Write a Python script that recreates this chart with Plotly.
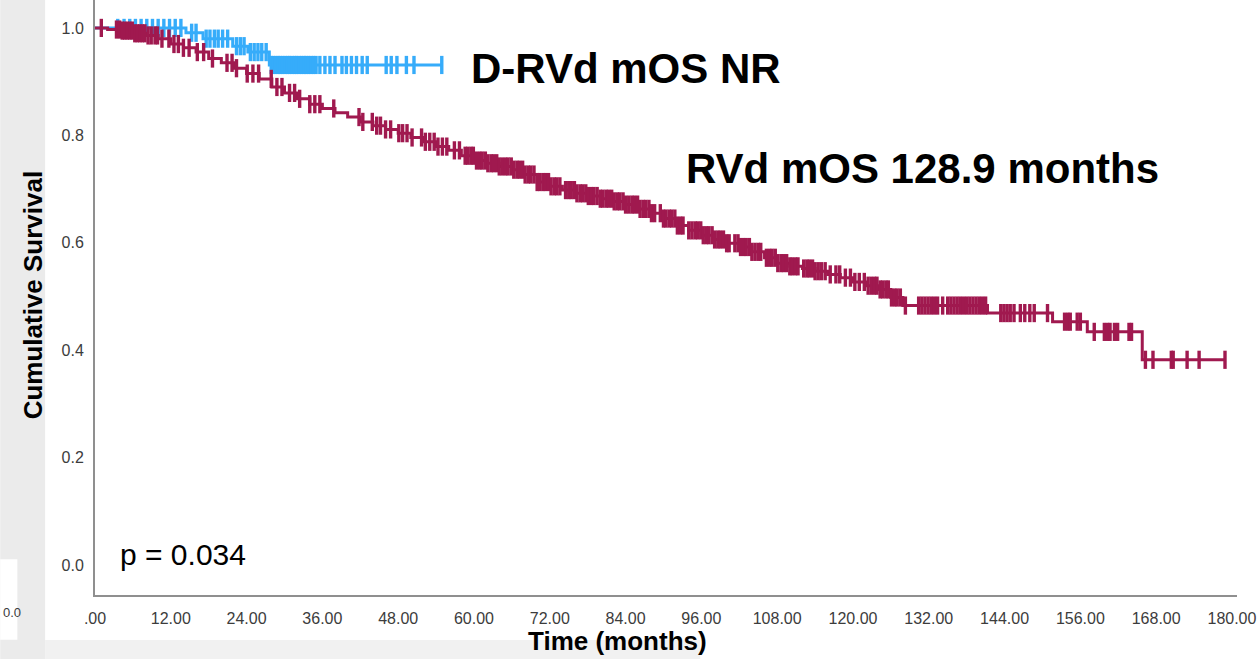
import numpy as np
import plotly.graph_objects as go

# ---- Kaplan-Meier data (months, cumulative survival) ----
# RVd arm: event times and survival after each step
RVD_EVENT_T = [2, 4, 6, 8, 10, 12, 14, 16, 18, 20, 22, 24, 26, 28, 30, 32, 34, 36, 38, 40,
               42, 44, 46, 48, 50, 52, 54, 56, 58, 60, 62, 64, 66, 68, 70, 72, 74, 76, 78, 80,
               82, 84, 86, 88, 90, 92, 94, 96, 98, 100, 102, 104, 106, 108, 110, 112, 114, 116,
               118, 120, 122, 124, 126, 127.9, 141.3, 151.6, 157.1, 165.8]
RVD_SURV = [0.997, 0.995, 0.990, 0.986, 0.980, 0.970, 0.963, 0.955, 0.943, 0.935,
            0.925, 0.915, 0.905, 0.890, 0.879, 0.868, 0.858, 0.850, 0.842, 0.834,
            0.825, 0.818, 0.811, 0.804, 0.796, 0.788, 0.779, 0.772, 0.762, 0.753,
            0.748, 0.742, 0.736, 0.727, 0.713, 0.705, 0.698, 0.692, 0.687, 0.682,
            0.677, 0.671, 0.663, 0.655, 0.645, 0.632, 0.623, 0.614, 0.606, 0.599,
            0.592, 0.583, 0.572, 0.562, 0.556, 0.552, 0.547, 0.541, 0.535, 0.527,
            0.520, 0.513, 0.498, 0.483, 0.469, 0.453, 0.434, 0.382]
RVD_CENSOR_T = [
    1.0, 3.4, 3.9, 4.3, 4.7, 5.1, 5.5, 5.9, 6.3, 6.7, 7.1, 7.5, 7.9, 8.4, 8.9, 9.5, 9.9, 10.6,
    11.7, 12.5, 13.2, 14.0, 14.9, 16.2, 17.2, 18.6, 20.9, 21.7, 22.4, 24.1, 25.0, 25.9,
    27.9, 28.8, 29.6, 30.8, 31.6, 32.4, 34.0, 34.8, 35.6, 37.8, 41.8, 42.4,
    43.9, 44.6, 45.2, 46.0, 46.8, 48.1, 48.7, 49.4, 50.2, 51.7, 52.3, 53.0, 53.7, 54.3,
    55.0, 55.7, 56.9, 57.7, 58.6, 59.0, 59.5, 59.9, 60.4, 60.9, 61.3, 61.8, 62.2, 62.7,
    63.1, 63.6, 64.0, 64.5, 65.0, 65.4, 65.9, 66.3, 66.8, 67.2, 67.7, 68.1, 68.6, 69.0,
    69.5, 70.0, 70.4, 70.9, 71.3, 71.8, 72.2, 72.7, 73.1, 73.6, 74.5, 75.0, 75.4, 75.9,
    76.3, 76.8, 77.2, 77.7, 78.1, 78.6, 79.0, 79.5, 80.0, 80.4, 80.9, 81.3, 81.8, 82.2,
    82.7, 83.1, 83.6, 84.0, 84.5, 85.0, 85.4, 85.9, 86.3, 86.8, 87.2, 87.7, 88.1, 88.6,
    89.5, 90.0, 90.4, 90.9, 91.3, 91.8, 92.2, 92.7, 93.1, 94.0, 94.5, 95.0, 95.4, 95.9,
    96.3, 96.8, 97.2, 97.7, 98.1, 98.6, 99.0, 99.5, 100.0, 100.4, 101.3, 101.8, 102.2,
    102.7, 103.1, 103.6, 104.0, 104.5, 105.0, 105.4, 106.3, 106.8, 107.2, 107.7, 108.1,
    108.6, 109.0, 109.5, 110.0, 110.4, 110.9, 111.3, 112.2, 112.7, 113.1, 113.6, 114.0,
    114.5, 115.0, 115.6, 116.4, 117.3, 117.9, 118.8, 119.6, 120.3, 121.0, 121.8, 122.4,
    122.9, 123.4, 123.8, 124.3, 124.7, 125.2, 125.6, 126.1, 126.6, 127.0, 127.5, 128.3,
    130.4, 130.9, 131.4, 131.9, 132.4, 132.9, 133.4, 134.2, 135.0, 135.5, 136.0, 136.5,
    137.0, 137.5, 138.0, 138.5, 139.0, 139.5, 140.0, 140.5, 141.0, 143.4, 143.9, 144.4,
    144.9, 145.5, 146.5, 147.2, 148.0, 148.7, 150.8, 153.5, 154.0, 154.4, 155.5, 156.0,
    158.2, 159.8, 160.3, 160.7, 161.4, 161.9, 163.7, 164.1, 166.3, 167.5, 170.4, 170.7,
    172.9, 174.8, 178.9]

# D-RVd arm
DRVD_EVENT_T = [14.4, 17.1, 21.8, 24.2, 27.6]
DRVD_SURV = [0.991, 0.980, 0.966, 0.955, 0.931]
DRVD_CENSOR_T = [
    3.6, 4.6, 5.5, 6.4, 7.3, 8.2, 9.1, 10.0, 10.9, 11.8, 12.7, 13.6, 15.3, 16.0, 17.6,
    18.2, 18.9, 19.5, 20.2, 21.0, 22.4, 23.0, 23.6, 24.6, 25.2, 25.8, 26.4, 27.1, 27.9,
    28.2, 28.6, 29.0, 29.3, 29.7, 30.1, 30.5, 30.8, 31.2, 31.6, 31.9, 32.3, 32.7, 33.1,
    33.4, 33.8, 34.2, 34.6, 35.0, 35.6, 36.4, 37.2, 38.0, 39.1, 39.8, 40.6, 41.4, 42.3,
    43.1, 46.1, 46.9, 47.8, 49.3, 50.5, 54.9]

X_TICKS = [0, 12, 24, 36, 48, 60, 72, 84, 96, 108, 120, 132, 144, 156, 168, 180]
X_TICKTEXT = [".00", "12.00", "24.00", "36.00", "48.00", "60.00", "72.00", "84.00",
              "96.00", "108.00", "120.00", "132.00", "144.00", "156.00", "168.00", "180.00"]
Y_TICKS = [0.0, 0.2, 0.4, 0.6, 0.8, 1.0]
Y_TICKTEXT = ["0.0", "0.2", "0.4", "0.6", "0.8", "1.0"]

RVD_COLOR = "#A0194F"
DRVD_COLOR = "#36ACFA"
FONT = "Liberation Sans, Arial, sans-serif"


def step_curve(event_t, surv, end_t):
    """KM step outline from time 0 to last follow-up."""
    xs = [0.0] + list(event_t) + [end_t]
    ys = [1.0] + list(surv) + [surv[-1]]
    return xs, ys


def surv_at(times, event_t, surv):
    """Survival level of the step function at each censoring time."""
    idx = np.searchsorted(np.asarray(event_t), np.asarray(times), side="right")
    levels = np.concatenate([[1.0], np.asarray(surv)])
    return levels[idx]


fig = go.Figure()


def add_arm(event_t, surv, censor_t, color, name):
    xs, ys = step_curve(event_t, surv, max(censor_t))
    fig.add_trace(go.Scatter(x=xs, y=ys, mode="lines", line=dict(color=color, width=3, shape="hv"),
                             name=name, showlegend=False, hoverinfo="skip"))
    fig.add_trace(go.Scatter(x=censor_t, y=surv_at(censor_t, event_t, surv), mode="markers",
                             marker=dict(symbol="line-ns", size=13,
                                         line=dict(color=color, width=3.4)),
                             name=name + " censored", showlegend=False))


add_arm(DRVD_EVENT_T, DRVD_SURV, DRVD_CENSOR_T, DRVD_COLOR, "D-RVd")
add_arm(RVD_EVENT_T, RVD_SURV, RVD_CENSOR_T, RVD_COLOR, "RVd")

axis_common = dict(showgrid=False, zeroline=False, showline=True, linecolor="#8f8f8f",
                   linewidth=2, ticks="", tickfont=dict(family=FONT, size=16, color="#3c3c3c"),
                   ticklabeloverflow="allow")

fig.update_xaxes(range=[0, 180.8], tickmode="array", tickvals=X_TICKS, ticktext=X_TICKTEXT,
                 ticklabelstandoff=8, **axis_common)
fig.update_yaxes(range=[-0.056, 1.052], tickmode="array", tickvals=Y_TICKS, ticktext=Y_TICKTEXT,
                 ticklabelstandoff=6, **axis_common)

# page decoration: grey strips at the left and bottom edges
shapes = [
    dict(type="rect", xref="paper", yref="paper", x0=-0.083, x1=-0.0437, y0=-0.11, y1=1.0,
         fillcolor="#ebebeb", line=dict(width=0), layer="below"),
    dict(type="rect", xref="paper", yref="paper", x0=-0.083, x1=-0.068, y0=-0.075, y1=0.06,
         fillcolor="#ffffff", line=dict(width=0), layer="below"),
    dict(type="rect", xref="paper", yref="paper", x0=-0.0437, x1=0.53, y0=-0.11, y1=-0.0756,
         fillcolor="#f1f1f1", line=dict(width=0), layer="below"),
]

annotations = [
    dict(text="<b>D-RVd mOS NR</b>", x=59.2, y=0.925, xref="x", yref="y", xanchor="left",
         yanchor="middle", showarrow=False, font=dict(family=FONT, size=42, color="#000000")),
    dict(text="<b>RVd mOS 128.9 months</b>", x=93.2, y=0.739, xref="x", yref="y",
         xanchor="left", yanchor="middle", showarrow=False,
         font=dict(family=FONT, size=42, color="#000000")),
    dict(text="p = 0.034", x=3.6, y=0.019, xref="x", yref="y", xanchor="left",
         yanchor="middle", showarrow=False, font=dict(family=FONT, size=30, color="#000000")),
    dict(text="<b>Time (months)</b>", x=0.4576, y=-0.0773, xref="paper", yref="paper",
         xanchor="center", yanchor="middle", showarrow=False,
         font=dict(family=FONT, size=26, color="#000000")),
    dict(text="<b>Cumulative Survival</b>", x=-0.0541, y=0.504, xref="paper", yref="paper",
         xanchor="center", yanchor="middle", textangle=-90, showarrow=False,
         font=dict(family=FONT, size=26, color="#000000")),
    dict(text="0.0", x=-0.0825, y=-0.03, xref="paper", yref="paper", xanchor="left",
         yanchor="middle", showarrow=False, font=dict(family=FONT, size=13, color="#3c3c3c")),
]

fig.update_layout(
    width=1257, height=659,
    margin=dict(l=95, r=17, t=0, b=64, pad=0),
    paper_bgcolor="#ffffff", plot_bgcolor="#ffffff",
    shapes=shapes, annotations=annotations,
    showlegend=False,
)

fig.write_html("out.html")
